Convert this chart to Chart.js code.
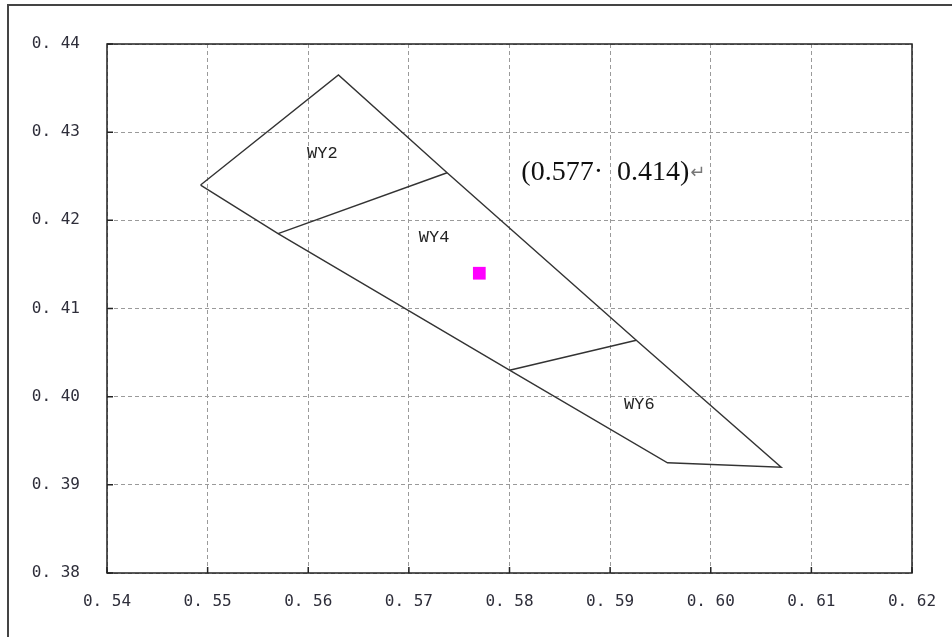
<!DOCTYPE html>
<html>
<head>
<meta charset="utf-8">
<script src="https://cdn.jsdelivr.net/npm/chart.js@4"></script>
<style>
  html, body { margin: 0; padding: 0; background: #fff; }
  canvas { display: block; }
</style>
</head>
<body>
<canvas id="chromaChart" width="952" height="637"></canvas>
<script>
// outline of the bin region (x, y chromaticity), clockwise from the left corner
var outlineX = [0.5493, 0.5630, 0.5738, 0.5926, 0.6070, 0.5957, 0.5800, 0.5570, 0.5493];
var outlineY = [0.4240, 0.4365, 0.4254, 0.4064, 0.3920, 0.3925, 0.4030, 0.4185, 0.4240];

// dividers between WY2 / WY4 and WY4 / WY6
var divider1X = [0.5570, 0.5738];
var divider1Y = [0.4185, 0.4254];
var divider2X = [0.5800, 0.5926];
var divider2Y = [0.4030, 0.4064];

// measured point
var pointX = [0.577];
var pointY = [0.414];
var pointText = '(0.577\u00b7  0.414)';

// region names and where they sit
var regionNames = ['WY2', 'WY4', 'WY6'];
var regionX = [0.5614, 0.5725, 0.5929];
var regionY = [0.4276, 0.4180, 0.3991];

var xTickLabels = ['0. 54', '0. 55', '0. 56', '0. 57', '0. 58', '0. 59', '0. 60', '0. 61', '0. 62'];
var yTickLabels = ['0. 38', '0. 39', '0. 40', '0. 41', '0. 42', '0. 43', '0. 44'];

function toPoints(xs, ys) {
    var pts = [];
    for (var i = 0; i < xs.length; i++) {
        pts.push({ x: xs[i], y: ys[i] });
    }
    return pts;
}

function lineSet(xs, ys) {
    return {
        data: toPoints(xs, ys),
        showLine: true,
        borderColor: '#333333',
        borderWidth: 1.4,
        pointRadius: 0,
        pointHoverRadius: 0,
        fill: false,
        tension: 0
    };
}

var decorPlugin = {
    id: 'decor',
    beforeDraw: function (chart) {
        var ctx = chart.ctx;
        ctx.save();
        ctx.fillStyle = '#ffffff';
        ctx.fillRect(0, 0, chart.width, chart.height);
        // outer frame, only top and left edges show
        ctx.strokeStyle = '#444444';
        ctx.lineWidth = 2;
        ctx.beginPath();
        ctx.moveTo(8, chart.height);
        ctx.lineTo(8, 5);
        ctx.lineTo(chart.width, 5);
        ctx.stroke();
        ctx.restore();
    },
    afterDatasetsDraw: function (chart) {
        var ctx = chart.ctx;
        var xs = chart.scales.x, ys = chart.scales.y;
        var a = chart.chartArea;
        ctx.save();

        // plot frame
        ctx.strokeStyle = '#222222';
        ctx.lineWidth = 1.5;
        ctx.strokeRect(a.left, a.top, a.right - a.left, a.bottom - a.top);

        // inner tick marks
        ctx.lineWidth = 1.5;
        ctx.beginPath();
        xs.ticks.forEach(function (t) {
            var px = xs.getPixelForValue(t.value);
            ctx.moveTo(px, a.bottom);
            ctx.lineTo(px, a.bottom - 6);
        });
        ys.ticks.forEach(function (t) {
            var py = ys.getPixelForValue(t.value);
            ctx.moveTo(a.left, py);
            ctx.lineTo(a.left + 6, py);
        });
        ctx.stroke();

        // region names
        ctx.fillStyle = '#222222';
        ctx.font = '17px "Liberation Mono"';
        ctx.textAlign = 'center';
        ctx.textBaseline = 'middle';
        for (var i = 0; i < regionNames.length; i++) {
            ctx.fillText(regionNames[i], xs.getPixelForValue(regionX[i]), ys.getPixelForValue(regionY[i]));
        }

        // coordinate note to the upper right of the point
        var nx = xs.getPixelForValue(pointX[0]) + 42;
        var ny = ys.getPixelForValue(pointY[0]) - 101;
        ctx.font = '28px "Liberation Serif"';
        ctx.textAlign = 'left';
        ctx.fillStyle = '#111111';
        ctx.fillText(pointText, nx, ny);
        var w = ctx.measureText(pointText).width;
        ctx.font = '18px "DejaVu Sans"';
        ctx.fillStyle = '#777777';
        ctx.fillText('\u21b5', nx + w + 1, ny + 1);

        ctx.restore();
    }
};

var ctx = document.getElementById('chromaChart').getContext('2d');
var chart = new Chart(ctx, {
    type: 'scatter',
    data: {
        datasets: [
            lineSet(outlineX, outlineY),
            lineSet(divider1X, divider1Y),
            lineSet(divider2X, divider2Y),
            {
                data: toPoints(pointX, pointY),
                pointStyle: 'rect',
                pointRadius: 9,
                pointHoverRadius: 9,
                backgroundColor: '#ff00ff',
                borderColor: '#ff00ff',
                borderWidth: 0,
                showLine: false
            }
        ]
    },
    options: {
        responsive: false,
        animation: false,
        devicePixelRatio: 1,
        layout: { padding: { left: 0, top: 44, right: 40, bottom: 0 } },
        plugins: {
            legend: { display: false },
            tooltip: { enabled: false }
        },
        scales: {
            x: {
                type: 'linear',
                min: 0.54,
                max: 0.62,
                afterFit: function (scale) {
                    scale.height = 64;
                    scale.paddingLeft = 0;
                    scale.paddingRight = 0;
                },
                ticks: {
                    stepSize: 0.01,
                    autoSkip: false,
                    maxRotation: 0,
                    padding: 19,
                    color: '#2e2e3a',
                    font: { family: '"DejaVu Sans Mono"', size: 16 },
                    callback: function (v, i) { return xTickLabels[i]; }
                },
                grid: { color: '#9a9a9a', lineWidth: 1, drawTicks: false },
                border: { display: false, dash: [4, 3] }
            },
            y: {
                type: 'linear',
                min: 0.38,
                max: 0.44,
                afterFit: function (scale) {
                    scale.width = 107;
                    scale.paddingTop = 0;
                    scale.paddingBottom = 0;
                },
                ticks: {
                    stepSize: 0.01,
                    autoSkip: false,
                    padding: 27,
                    color: '#2e2e3a',
                    font: { family: '"DejaVu Sans Mono"', size: 16 },
                    callback: function (v, i) { return yTickLabels[i]; }
                },
                grid: { color: '#9a9a9a', lineWidth: 1, drawTicks: false },
                border: { display: false, dash: [4, 3] }
            }
        }
    },
    plugins: [decorPlugin]
});
</script>
</body>
</html>
